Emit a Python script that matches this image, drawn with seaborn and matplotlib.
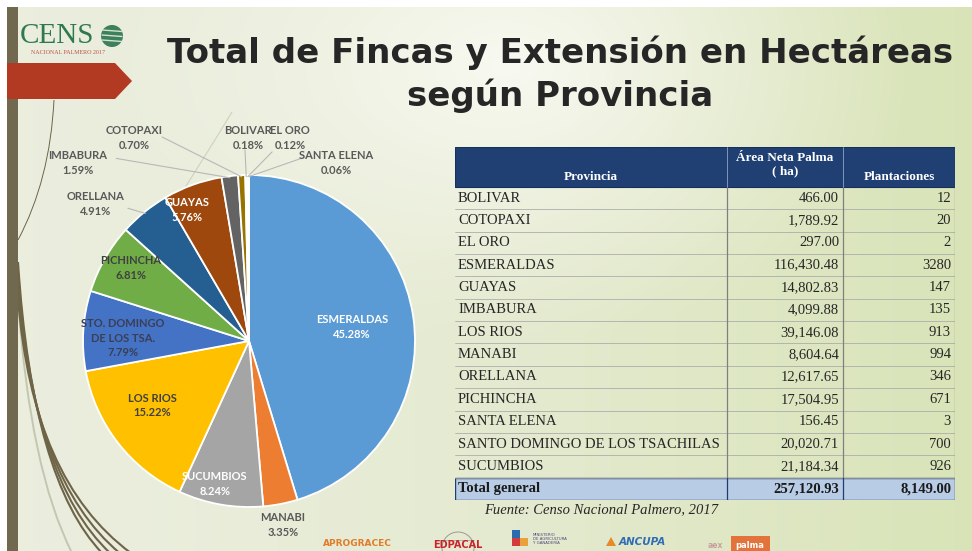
import numpy as np
import matplotlib
matplotlib.use("Agg")
import matplotlib.pyplot as plt
import seaborn as sns
from matplotlib.patches import Polygon, Rectangle, PathPatch, Circle
from matplotlib.path import Path

# ---------------- data ----------------
provincias = ["BOLIVAR", "COTOPAXI", "EL ORO", "ESMERALDAS", "GUAYAS", "IMBABURA",
              "LOS RIOS", "MANABI", "ORELLANA", "PICHINCHA", "SANTA ELENA",
              "SANTO DOMINGO DE LOS TSACHILAS", "SUCUMBIOS"]
area_ha = [466.00, 1789.92, 297.00, 116430.48, 14802.83, 4099.88, 39146.08,
           8604.64, 12617.65, 17504.95, 156.45, 20020.71, 21184.34]
plantaciones = [12, 20, 2, 3280, 147, 135, 913, 994, 346, 671, 3, 700, 926]

pie_order = ["ESMERALDAS", "MANABI", "SUCUMBIOS", "LOS RIOS",
             "SANTO DOMINGO DE LOS TSACHILAS", "PICHINCHA", "ORELLANA", "GUAYAS",
             "IMBABURA", "COTOPAXI", "BOLIVAR", "EL ORO", "SANTA ELENA"]
pie_labels = ["ESMERALDAS", "MANABI", "SUCUMBIOS", "LOS RIOS",
              "STO. DOMINGO\nDE LOS TSA.", "PICHINCHA", "ORELLANA", "GUAYAS",
              "IMBABURA", "COTOPAXI", "BOLIVAR", "EL ORO", "SANTA ELENA"]

headers = ["Provincia", "Área Neta Palma\n( ha)", "Plantaciones"]
total_label = "Total general"
title_text = "Total de Fincas y Extensión en Hectáreas\nsegún Provincia"
source_text = "Fuente: Censo Nacional Palmero, 2017"

# ---------------- styles / layout ----------------
slice_colors = ["#5B9BD5", "#ED7D31", "#A5A5A5", "#FFC000", "#4472C4", "#70AD47",
                "#255E91", "#9E480E", "#636363", "#997300", "#264478", "#43682B", "#F1975A"]
label_colors = ["white", "#595959", "white", "#404040", "#3A3F55", "#404040",
                "#595959", "white", "#595959", "#595959", "#595959", "#595959", "#595959"]
label_pos = [(0.62, 0.084), (0.205, -1.108), (-0.205, -0.861), (-0.584, -0.386),
             (-0.759, 0.018), (-0.711, 0.44), (-0.922, 0.825), (-0.373, 0.789),
             (-1.03, 1.072), (-0.693, 1.223), (-0.006, 1.223), (0.247, 1.223),
             (0.524, 1.072)]
leader_start = [None, None, None, None, None, None, (-0.73, 0.80), None,
                (-0.80, 1.10), (-0.524, 1.229), (-0.024, 1.15), (0.139, 1.139),
                (0.337, 1.108)]

sns.set_theme(style="white")
plt.rcParams["font.family"] = ["DejaVu Sans"]

W, H = 972, 551
fig = plt.figure(figsize=(W / 100, H / 100), dpi=100)

# ---------------- background ----------------
bg = fig.add_axes([0, 0, 1, 1], zorder=0)
bg.set_xlim(0, W)
bg.set_ylim(H, 0)
bg.axis("off")
xx, yy = np.meshgrid(np.linspace(0, 1, W), np.linspace(0, 1, H))
c_left = np.array([0.922, 0.933, 0.87])
c_right = np.array([0.85, 0.893, 0.72])
t = np.clip(xx, 0, 1) ** 1.5
img = c_left * (1 - t[..., None]) + c_right * t[..., None]
d = np.sqrt(((xx - 0.52) / 0.42) ** 2 + ((yy - 0.12) / 0.5) ** 2)
hl = np.clip(1 - d, 0, 1)[..., None] ** 1.2
img = img * (1 - hl) + np.array([0.972, 0.976, 0.945]) * hl
bg.imshow(img, extent=[0, W, H, 0], aspect="auto", zorder=0)
bg.add_patch(Rectangle((0, 0), W, 7, facecolor="white", edgecolor="none", zorder=1))
bg.add_patch(Rectangle((0, 0), 7, H, facecolor="white", edgecolor="none", zorder=1))
bg.add_patch(Rectangle((7, 7), 11, H, facecolor="#716850", edgecolor="none", zorder=2))


def curve(p0, c, p2, **kw):
    path = Path([p0, c, p2], [Path.MOVETO, Path.CURVE3, Path.CURVE3])
    bg.add_patch(PathPatch(path, facecolor="none", **kw))


curve((54, 100), (50, 180), (18, 240), edgecolor="#6E6448", lw=0.7, zorder=1.5)
for k, dd in enumerate([0, 10, 22, 36]):
    curve((18, 262 + dd), (32, 480), (102 + dd * 0.8, H + 2), edgecolor="#6E6448",
          lw=1.5, zorder=1.5)
curve((18, 300), (30, 470), (72, H + 2), edgecolor="#C3C7B0", lw=1.4, zorder=1.4)
curve((232, 112), (200, 165), (163, 222), edgecolor="#CDD1BE", lw=0.8, zorder=1.4)

bg.add_patch(Polygon([(7, 63), (115, 63), (132, 81), (115, 99), (7, 99)],
                     closed=True, facecolor="#B33A22", edgecolor="none", zorder=3))

# logo
bg.text(20, 36, "CENS", fontsize=21, color="#2F7A4C", family="Liberation Serif",
        va="center", ha="left", zorder=3)
bg.add_patch(Circle((112, 36), 11, facecolor="#3F7F5A", edgecolor="none", zorder=3))
for yy_ in (30, 35, 40):
    bg.plot([102, 122], [yy_, yy_ + 1.5], color="#CFE3D2", lw=1.0, zorder=4)
bg.text(68, 53, "NACIONAL PALMERO 2017", fontsize=4.3, color="#C0504D",
        family="Liberation Serif", ha="center", va="center", zorder=3)

# title
bg.text(560, 74, title_text, fontsize=24.5, fontweight="bold", color="#262626",
        ha="center", va="center", linespacing=1.3, zorder=3)

# bottom logos
bg.text(323, 543, "APROGRACEC", fontsize=6.5, fontweight="bold", color="#E07B28",
        ha="left", va="center", zorder=3)
bg.add_patch(Circle((458, 548), 16, facecolor="none", edgecolor="#9A9A9A", lw=0.7, zorder=3))
bg.plot([442, 474], [540, 540], color="#9A9A9A", lw=0.5, zorder=3)
bg.text(458, 545, "EDPACAL", fontsize=7, fontweight="bold", color="#C8252B",
        ha="center", va="center", zorder=4)
bg.add_patch(Rectangle((512, 530), 8, 8, facecolor="#2B6CB0", edgecolor="none", zorder=3))
bg.add_patch(Rectangle((520, 538), 8, 8, facecolor="#E9A23B", edgecolor="none", zorder=3))
bg.add_patch(Rectangle((512, 538), 8, 8, facecolor="#D33C3C", edgecolor="none", zorder=3))
bg.text(533, 539, "MINISTERIO\nDE AGRICULTURA\nY GANADERÍA", fontsize=2.8, color="#4A4A7A",
        ha="left", va="center", linespacing=1.0, zorder=3)
bg.add_patch(Polygon([(606, 546), (611, 537), (616, 546)], closed=True,
                     facecolor="#E88A2C", edgecolor="none", zorder=3))
bg.text(619, 542, "ANCUPA", fontsize=7.5, fontweight="bold", style="italic",
        color="#2F6DB5", ha="left", va="center", zorder=3)
bg.add_patch(Rectangle((731, 536), 39, 16, facecolor="#E2733A", edgecolor="none", zorder=3))
bg.text(708, 545, "aex", fontsize=5.5, fontweight="bold", color="#C9A0A0",
        ha="left", va="center", zorder=4)
bg.text(750, 545, "palma", fontsize=6, fontweight="bold", color="white",
        ha="center", va="center", zorder=4)

# ---------------- pie ----------------
values = [area_ha[provincias.index(p)] for p in pie_order]
total_area = sum(area_ha)
cx, cy, r = 249, 341, 166
ax = fig.add_axes([(cx - r) / W, 1 - (cy + r) / H, 2 * r / W, 2 * r / H], zorder=2)
wedges, _ = ax.pie(values, colors=slice_colors, startangle=90, counterclock=False,
                   wedgeprops=dict(edgecolor="white", linewidth=1.3))
ax.set_xlim(-1, 1)
ax.set_ylim(-1, 1)
ax.axis("off")

for w, lab, val, col, pos, ls in zip(wedges, pie_labels, values, label_colors,
                                      label_pos, leader_start):
    pct = 100 * val / total_area
    ax.text(pos[0], pos[1], f"{lab}\n{pct:.2f}%", ha="center", va="center",
            fontsize=8, fontweight="bold", color=col, family="Lato",
            linespacing=1.35, zorder=5)
    if ls is not None:
        ang = np.deg2rad((w.theta1 + w.theta2) / 2)
        ax.plot([ls[0], np.cos(ang) * 0.99], [ls[1], np.sin(ang) * 0.99],
                color="#B8B8B8", lw=0.8, zorder=4, clip_on=False)

# ---------------- table ----------------
n = len(provincias)
HDR = 1.78
col_edges = [0, 272, 388, 500]
tab = fig.add_axes([455 / W, 1 - 500 / H, 500 / W, 353 / H], zorder=2)
tab.set_xlim(0, 500)
tab.set_ylim(n + 1, -HDR)
tab.axis("off")

tab.add_patch(Rectangle((0, -HDR), 500, HDR, facecolor="#203F73", edgecolor="#16305A",
                        lw=0.8))
for xe in col_edges[1:-1]:
    tab.plot([xe, xe], [-HDR, 0], color="#8FA3C4", lw=0.6)
tab.text((col_edges[0] + col_edges[1]) / 2, -0.45, headers[0], ha="center", va="center",
         color="white", fontweight="bold", family="Liberation Serif", fontsize=9.5)
tab.text((col_edges[1] + col_edges[2]) / 2, -0.98, headers[1], ha="center", va="center",
         color="white", fontweight="bold", family="Liberation Serif", fontsize=9.5,
         linespacing=1.15)
tab.text((col_edges[2] + col_edges[3]) / 2, -0.45, headers[2], ha="center", va="center",
         color="white", fontweight="bold", family="Liberation Serif", fontsize=9.5)

for i, (p, a, pl) in enumerate(zip(provincias, area_ha, plantaciones)):
    y = i + 0.5
    tab.text(3, y, p, ha="left", va="center", family="Liberation Serif", fontsize=10.5,
             color="#262626")
    tab.text(col_edges[2] - 4, y, f"{a:,.2f}", ha="right", va="center",
             family="Liberation Serif", fontsize=10.5, color="#262626")
    tab.text(col_edges[3] - 4, y, f"{pl}", ha="right", va="center",
             family="Liberation Serif", fontsize=10.5, color="#262626")
    tab.plot([0, 500], [i + 1, i + 1], color="#A8A8A8", lw=0.55)

for xe in col_edges[1:]:
    tab.plot([xe, xe], [0, n], color="#7F7F7F", lw=0.9)

tab.add_patch(Rectangle((0, n), 500, 1, facecolor="#B8CCE6", edgecolor="#1F3B6F", lw=1.0))
for xe in col_edges[1:-1]:
    tab.plot([xe, xe], [n, n + 1], color="#1F3B6F", lw=0.9)
tab.text(3, n + 0.5, total_label, ha="left", va="center", family="Liberation Serif",
         fontsize=10.5, fontweight="bold", color="#1A1A1A")
tab.text(col_edges[2] - 4, n + 0.5, f"{total_area:,.2f}", ha="right", va="center",
         family="Liberation Serif", fontsize=10.5, fontweight="bold", color="#1A1A1A")
tab.text(col_edges[3] - 4, n + 0.5, f"{float(sum(plantaciones)):,.2f}", ha="right",
         va="center", family="Liberation Serif", fontsize=10.5, fontweight="bold",
         color="#1A1A1A")
tab.text(29, n + 1.42, source_text, ha="left", va="center", family="Liberation Serif",
         fontsize=10.5, style="italic", color="#262626", clip_on=False)

fig.savefig("out.png", dpi=100)
